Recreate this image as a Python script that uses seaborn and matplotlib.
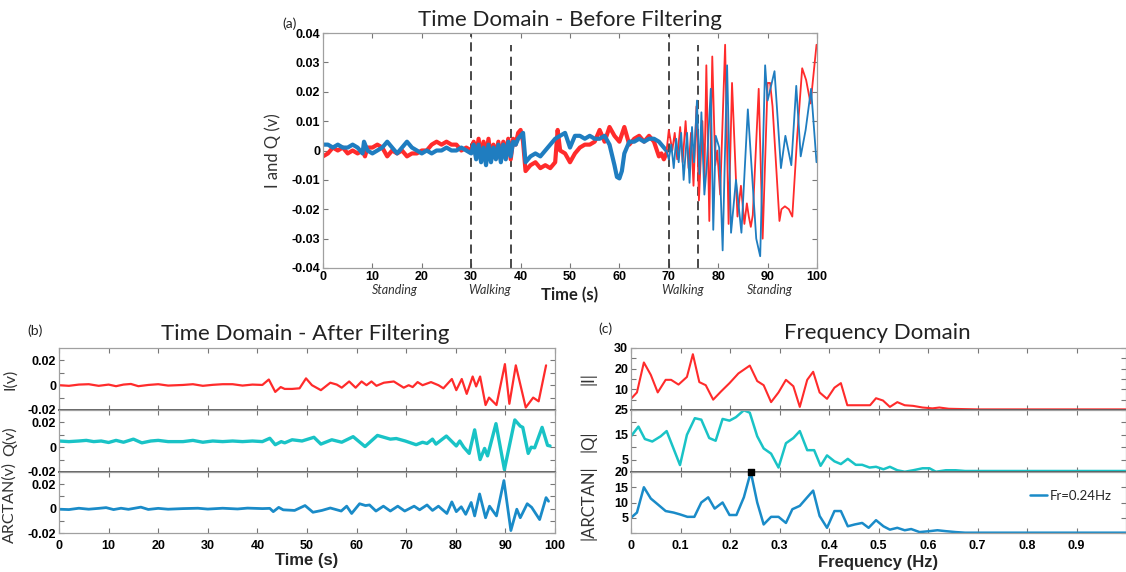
import matplotlib
matplotlib.use("Agg")
import matplotlib.pyplot as plt
from matplotlib.transforms import blended_transform_factory
import numpy as np
import pandas as pd
import seaborn as sns

# ---------------- data ----------------
# (a) raw I and Q signals, (time s, volts)
raw_I = [(0, -0.002), (1, -0.001), (2, 0.001), (3, 0.000), (4, 0.001), (5, -0.001), (6, 0.000), (7, -0.001),
         (8, 0.000), (8.5, -0.002), (9, 0.001), (10, 0.001), (11, 0.002), (12, 0.001), (13, -0.002), (14, 0.000),
         (15, -0.001), (16, 0.000), (17, -0.002), (18, -0.001), (19, -0.001), (20, 0.000), (21, 0.000), (22, 0.002),
         (23, 0.003), (24, 0.002), (25, 0.003), (26, 0.002), (27, 0.002), (28, 0.000), (29, 0.001), (30, 0.000),
         (30.5, 0.003), (31, -0.002), (31.5, 0.004), (32, -0.003), (32.5, 0.003), (33, -0.002), (33.5, 0.004),
         (34, -0.003), (34.5, 0.002), (35, -0.002), (35.5, 0.003), (36, -0.003), (36.5, 0.003), (37, -0.002),
         (37.5, 0.004), (38, -0.003), (38.5, 0.004), (39, 0.002), (39.5, 0.006), (40, 0.007), (40.5, 0.003),
         (41, -0.007), (42, -0.005), (43, -0.004), (44, -0.006), (45, -0.005), (46, -0.006), (47, -0.004),
         (47.5, 0.007), (48, 0.000), (49, -0.001), (50, -0.004), (51, -0.001), (52, 0.001), (53, 0.002), (54, 0.002),
         (55, 0.003), (56, 0.007), (57, 0.003), (58, 0.008), (59, 0.005), (60, 0.003), (61, 0.008), (62, 0.002),
         (63, 0.004), (64, 0.005), (65, 0.003), (66, 0.005), (67, 0.003), (68, -0.002), (68.5, -0.001), (69, -0.003),
         (69.5, -0.001), (70, 0.007), (70.7, 0.000), (71.2, 0.006), (71.7, -0.003), (72.3, 0.008), (72.8, -0.004),
         (73.4, 0.010), (74, -0.006), (74.5, 0.006), (75, -0.012), (75.6, 0.015), (76.1, -0.017), (76.8, 0.010),
         (77.2, -0.010), (77.6, 0.029), (78.2, -0.024), (78.8, 0.032), (79.4, -0.005), (79.8, 0.000), (80.4, -0.015),
         (81.4, 0.036), (82.1, -0.025), (82.8, 0.023), (83.9, -0.0225), (84.6, -0.012), (85.3, -0.025),
         (85.8, -0.018), (86.2, -0.0225), (86.6, -0.026), (87.0, -0.022), (88.2, 0.021), (89.0, -0.030),
         (90.0, 0.023), (90.5, 0.023), (91.0, 0.015), (92.4, -0.024), (92.8, -0.020), (93.5, -0.019),
         (94.3, -0.020), (95.0, -0.0225), (96.0, 0.005), (97.0, 0.028), (97.8, 0.024), (98.7, 0.016), (99.9, 0.036)]
raw_Q = [(0, 0.002), (1, 0.002), (2, 0.001), (3, 0.002), (4, 0.001), (5, 0.001), (6, 0.002), (7, 0.001),
         (8, -0.001), (8.3, 0.003), (9, 0.000), (10, -0.001), (11, 0.000), (12, 0.001), (13, 0.003), (14, 0.001),
         (15, -0.001), (16, 0.001), (17, 0.003), (18, 0.001), (19, 0.000), (20, -0.001), (21, 0.000), (22, -0.001),
         (23, 0.000), (24, 0.000), (25, 0.001), (26, 0.000), (27, 0.000), (28, 0.001), (29, 0.000), (30, -0.001),
         (30.5, 0.002), (31, -0.003), (31.5, 0.002), (32, -0.004), (32.5, 0.001), (33, -0.005), (33.5, 0.002),
         (34, -0.004), (34.5, 0.001), (35, -0.003), (35.5, 0.002), (36, -0.004), (36.5, 0.002), (37, -0.003),
         (37.5, 0.003), (38, -0.002), (38.5, 0.003), (39, 0.002), (39.5, 0.004), (40, 0.005), (40.5, 0.006),
         (41, -0.004), (42, -0.002), (43, -0.001), (44, -0.002), (45, 0.000), (46, 0.002), (47, 0.004), (48, 0.005),
         (49, 0.006), (50, 0.001), (51, 0.005), (52, 0.005), (53, 0.004), (54, 0.005), (55, 0.004), (56, 0.004),
         (57, 0.005), (58, 0.002), (59, -0.005), (59.5, -0.009), (60, -0.0095), (60.5, -0.007), (61, -0.001),
         (62, 0.003), (63, 0.003), (64, 0.004), (65, 0.003), (66, 0.004), (67, 0.004), (68, 0.003), (69, 0.001),
         (69.5, 0.000), (70, -0.003), (70.5, 0.002), (71, -0.006), (71.5, 0.004), (72, -0.004), (72.5, 0.006),
         (73, -0.010), (73.7, 0.006), (74.2, -0.011), (74.7, 0.008), (75.1, -0.004), (75.7, 0.017), (76.2, -0.008),
         (76.6, 0.013), (77.2, -0.015), (77.7, -0.005), (78.5, 0.021), (79.0, -0.027), (79.5, 0.005), (80.2, 0.001),
         (80.9, -0.034), (81.8, 0.029), (82.6, -0.028), (83.6, -0.010), (84.7, -0.028), (86.0, 0.014),
         (87.0, -0.012), (87.7, -0.030), (88.5, -0.036), (89.5, 0.029), (90.0, 0.017), (91.4, 0.027),
         (92.7, -0.006), (93.6, 0.005), (94.8, -0.005), (95.8, 0.022), (96.7, -0.002), (97.7, 0.007),
         (98.8, 0.021), (99.9, -0.004)]
events = [30, 38, 70, 76]
activity_names = ["Standing", "Walking", "Walking", "Standing"]
activity_centers = [14.6, 33.8, 72.7, 90.5]

# (b) filtered signals (time s, volts)
filt_I = [(0, 0.0), (2, -0.0005), (4, 0.0005), (6, 0.0008), (8, -0.0005), (10, 0.0005), (11.5, -0.0008),
          (13, 0.0005), (14.5, 0.001), (16, -0.0008), (18, 0.0002), (20, 0.0008), (22, -0.0003), (25, 0.0002),
          (27, 0.0008), (29, -0.0005), (31, 0.0003), (33, 0.0008), (35, 0.0008), (37, -0.0003), (39, 0.0005),
          (41, 0.0002), (42.3, 0.0046), (43.6, -0.0054), (44.7, -0.0015), (45.5, -0.003), (47, -0.003),
          (48.5, -0.0025), (49.8, 0.0055), (51, 0.0), (52.8, -0.004), (54.7, 0.002), (56, 0.0005), (57, -0.002),
          (58.5, 0.003), (59.8, -0.002), (61, 0.003), (62, 0.0), (63, 0.003), (64, -0.0005), (65.5, 0.002),
          (67.5, 0.003), (69.5, -0.002), (70.5, 0.0), (71.3, -0.0015), (72.3, 0.0025), (73.3, 0.0), (75, 0.0025),
          (76.5, 0.0), (77.5, -0.0025), (79.2, 0.005), (80.1, -0.004), (81.2, 0.005), (82.2, -0.007), (83.4, 0.007),
          (84.1, -0.001), (84.9, 0.007), (86.0, -0.016), (86.7, -0.010), (88.2, -0.016), (89.9, 0.017),
          (90.8, -0.015), (92.1, 0.016), (94.1, -0.018), (95.6, -0.010), (96.7, -0.013), (98.2, 0.016)]
filt_Q = [(0, 0.005), (2, 0.0045), (4, 0.005), (5.5, 0.0055), (7, 0.0045), (8.5, 0.005), (10, 0.0038),
          (11.5, 0.0055), (13, 0.004), (15, 0.0065), (16.7, 0.0035), (18.5, 0.005), (20, 0.0055), (22, 0.0045),
          (25, 0.0045), (27, 0.0055), (29, 0.004), (31, 0.005), (33, 0.0045), (35, 0.005), (37, 0.0045),
          (39, 0.005), (41, 0.0045), (42.5, 0.0072), (43.6, 0.002), (44.8, 0.0045), (45.5, 0.0035), (47, 0.006),
          (49, 0.005), (51.4, 0.008), (52.8, 0.0025), (55, 0.006), (57, 0.004), (59.3, 0.0085), (61.7, 0.0005),
          (64.2, 0.0095), (66.8, 0.0065), (68, 0.007), (69.8, 0.005), (72, 0.002), (73.3, 0.004), (74.2, 0.003),
          (75.3, 0.0065), (76, 0.0025), (78.1, 0.009), (80.1, 0.001), (80.8, 0.005), (81.6, 0.0), (82.7, -0.005),
          (83.8, 0.014), (84.9, -0.010), (85.8, -0.001), (86.4, -0.007), (88.1, 0.019), (89.8, -0.018),
          (91.9, 0.022), (93.0, 0.017), (93.5, 0.016), (94.6, -0.005), (95.2, 0.0), (95.9, -0.0005),
          (97.4, 0.016), (98.5, 0.0015), (99, 0.001)]
filt_A = [(0, -0.0005), (2, -0.0008), (4, 0.0003), (6, -0.0005), (8, 0.0002), (9.5, 0.0008), (11, -0.0008),
          (12.5, 0.0003), (14, -0.0006), (16.5, 0.0012), (18, -0.0007), (20, 0.0002), (22, -0.0005), (25, 0.0),
          (28, 0.0003), (30, -0.0004), (33, 0.0003), (36, -0.0003), (38, 0.0004), (41, 0.0), (42.5, 0.0002),
          (43.2, -0.0025), (44.3, 0.001), (45.2, -0.001), (47.5, -0.0015), (49.6, 0.0025), (51.2, -0.003),
          (53, -0.0015), (54.7, 0.0005), (56.9, -0.002), (58, 0.002), (59, -0.004), (60.6, 0.004), (61.8, 0.0025),
          (62.6, 0.003), (63.9, -0.002), (65.4, 0.002), (66.8, -0.002), (68.3, 0.002), (69.7, -0.002),
          (71.6, 0.002), (72.7, -0.001), (74.2, 0.003), (75.3, -0.0015), (76.5, 0.002), (78.2, -0.004),
          (79.2, 0.0055), (80.1, -0.0025), (81.1, 0.0015), (82.0, -0.0047), (83.1, 0.005), (83.8, -0.006),
          (84.8, 0.012), (86.0, -0.0075), (86.8, 0.002), (88.2, -0.006), (89.7, 0.023), (91.1, -0.018),
          (92.3, -0.0005), (93.0, -0.0075), (94.4, 0.004), (95.3, 0.001), (96.9, -0.009), (98.2, 0.009),
          (98.7, 0.006)]

# (c) spectra (frequency Hz, magnitude)
freq_I = [0, 0.012, 0.026, 0.040, 0.054, 0.070, 0.081, 0.096, 0.113, 0.125, 0.138, 0.151, 0.166, 0.182, 0.199,
          0.217, 0.240, 0.255, 0.268, 0.283, 0.298, 0.313, 0.328, 0.341, 0.356, 0.368, 0.381, 0.396, 0.411, 0.424,
          0.437, 0.450, 0.464, 0.483, 0.495, 0.509, 0.523, 0.538, 0.553, 0.570, 0.589, 0.609, 0.623, 0.642, 0.66,
          0.70, 0.75, 0.80, 0.90, 1.0]
mag_I = [5.4, 8.5, 23, 17, 8.5, 14.6, 14.6, 12.3, 16, 27, 13.5, 12, 5, 9, 13, 17.7, 21.5, 14, 12, 3.8,
         8.5, 14.6, 11.5, 1.5, 14.6, 18.5, 8.5, 5.4, 10.8, 13, 2.3, 2.3, 2.3, 2.3, 5.7, 4.6, 1.5, 3.8, 2.3, 2.0,
         1.2, 0.8, 1.2, 0.6, 0.5, 0.3, 0.3, 0.3, 0.3, 0.3]
freq_Q = [0, 0.015, 0.028, 0.043, 0.060, 0.072, 0.099, 0.113, 0.129, 0.142, 0.158, 0.171, 0.185, 0.199, 0.212,
          0.228, 0.240, 0.255, 0.268, 0.283, 0.298, 0.313, 0.328, 0.341, 0.356, 0.370, 0.383, 0.396, 0.411, 0.424,
          0.438, 0.454, 0.467, 0.482, 0.495, 0.510, 0.523, 0.538, 0.553, 0.570, 0.589, 0.603, 0.616, 0.636, 0.656,
          0.675, 0.70, 0.75, 0.80, 0.90, 1.0]
mag_Q = [14.4, 18.3, 13.3, 12.3, 14.4, 16.5, 2.8, 15, 21.7, 21.1, 13.7, 12.6, 21.4, 20.7, 22.1, 24.9, 23.9, 14.4,
         9.5, 7.4, 1.8, 11.6, 13.7, 16.5, 8.8, 8.8, 2.5, 6.7, 4.3, 3.2, 5.3, 2.9, 2.9, 1.8, 2.1, 1.1, 2.1, 0.7,
         0.1, 0.7, 1.5, 1.5, 0.1, 0.7, 0.7, 0.4, 0.4, 0.4, 0.4, 0.4, 0.4]
freq_A = [0, 0.012, 0.026, 0.040, 0.054, 0.070, 0.086, 0.099, 0.114, 0.128, 0.142, 0.156, 0.169, 0.185, 0.199,
          0.213, 0.228, 0.242, 0.255, 0.268, 0.283, 0.298, 0.313, 0.326, 0.341, 0.356, 0.368, 0.381, 0.396, 0.411,
          0.424, 0.438, 0.452, 0.467, 0.480, 0.495, 0.510, 0.523, 0.538, 0.553, 0.566, 0.583, 0.603, 0.619, 0.636,
          0.656, 0.675, 0.75, 0.85, 1.0]
mag_A = [5, 6.7, 15, 11.3, 9.4, 7.2, 6.7, 6.1, 5.3, 5.3, 10, 11.7, 8, 10, 5.9, 5.9, 11.7, 20, 10, 2.8,
         5.3, 5.3, 3.3, 7.8, 8.9, 11.7, 13.9, 5.6, 1.7, 7.2, 7.2, 2.2, 2.8, 3.3, 1.7, 4.2, 2.2, 1.1, 1.7, 0.9,
         1.3, 0.3, 0.6, 0.9, 0.6, 0.3, 0.1, 0.1, 0.1, 0.1]
peak_label = "Fr=0.24Hz"

# ---------------- style ----------------
sns.set_theme(style="white")
plt.rcParams["font.family"] = ["Liberation Sans", "DejaVu Sans"]
TITLE_FONT = ["Lato", "DejaVu Sans"]

RED = "#ff2b2b"
BLUE = "#1f7dc0"
CYAN = "#19c3c6"
ABLUE = "#1a8bc8"
FRAME = "#a0a0a0"

W, H = 1126, 572
fig = plt.figure(figsize=(W / 100, H / 100), dpi=100)


def add_ax(l, t, r, b):
    return fig.add_axes([l / W, 1 - b / H, (r - l) / W, (b - t) / H])


def frame(ax):
    ax.set_facecolor("white")
    for s in ax.spines.values():
        s.set_visible(True)
        s.set_color(FRAME)
        s.set_linewidth(0.9)
    ax.tick_params(direction="in", length=3.5, width=0.8, color="#777777",
                   top=True, right=True, bottom=True, left=True, pad=2, labelcolor="black")
    ax.grid(False)


def line(ax, pts, color, lw, label=None):
    df = pd.DataFrame(pts, columns=["x", "y"])
    sns.lineplot(data=df, x="x", y="y", ax=ax, color=color, lw=lw, estimator=None,
                 sort=False, label=label, legend=False)
    ax.set_xlabel("")
    ax.set_ylabel("")


def vfmt(v):
    return "0" if abs(v) < 1e-12 else f"{v:.2f}"


# ---------------- (a) ----------------
axa = add_ax(323, 33, 817, 268)
frame(axa)
split = 69.5
line(axa, [p for p in raw_I if p[0] <= split], RED, 3.0)
line(axa, [p for p in raw_Q if p[0] <= split], BLUE, 3.0)
line(axa, [p for p in raw_I if p[0] >= split], RED, 1.3)
line(axa, [p for p in raw_Q if p[0] >= split], BLUE, 1.3)
for e, top in zip(events, [1.0, 0.95, 1.0, 0.95]):
    axa.axvline(e, ymin=0, ymax=top, color="#3a3a3a", lw=1.3, ls=(0, (5, 3)), zorder=1)
axa.set_xlim(0, 100)
axa.set_ylim(-0.04, 0.04)
xt = np.arange(0, 101, 10)
axa.set_xticks(xt, [str(v) for v in xt], fontsize=9, fontweight="bold")
yt = np.round(np.arange(-0.04, 0.0401, 0.01), 2)
axa.set_yticks(yt, [vfmt(v) for v in yt], fontsize=9, fontweight="bold")
axa.set_ylabel("I and Q (v)", fontsize=12, family=TITLE_FONT, color="#333333")
axa.yaxis.set_label_coords(-0.085, 0.5)
tr = blended_transform_factory(axa.transData, axa.transAxes)
for name, c in zip(activity_names, activity_centers):
    axa.text(c, -0.07, name, transform=tr, ha="center", va="top", fontsize=9,
             style="italic", family=TITLE_FONT, color="#333333")
axa.text(0.5, -0.115, "Time (s)", transform=axa.transAxes, ha="center", va="center",
         fontsize=12, fontweight="bold", family=TITLE_FONT, color="#222222")
fig.text(570 / W, 1 - 20 / H, "Time Domain - Before Filtering", ha="center", va="center",
         fontsize=16, family=TITLE_FONT, color="#222222")
fig.text(290 / W, 1 - 24 / H, "(a)", ha="center", va="center", fontsize=10,
         family=TITLE_FONT, color="#222222")

# ---------------- (b) ----------------
rows = [(348, 410), (410, 472), (472, 533)]
b_series = [(filt_I, RED, 1.6, "I(v)"), (filt_Q, CYAN, 2.4, "Q(v)"), (filt_A, ABLUE, 2.0, "ARCTAN(v)")]
for i, ((t, b), (pts, col, lw, lab)) in enumerate(zip(rows, b_series)):
    ax = add_ax(59, t, 555, b)
    frame(ax)
    line(ax, pts, col, lw)
    ax.set_xlim(0, 100)
    ax.set_ylim(-0.02, 0.03)
    yt = [-0.02, -0.01, 0, 0.01, 0.02]
    ax.set_yticks(yt, ["-0.02", "", "0", "", "0.02"], fontsize=9, fontweight="bold")
    ax.set_xticks(xt, [str(v) for v in xt], fontsize=9, fontweight="bold")
    if i < 2:
        ax.tick_params(labelbottom=False)
        ax.spines["bottom"].set_color("#555555")
        ax.spines["bottom"].set_linewidth(1.3)
    else:
        ax.tick_params(axis="x", pad=5)
        ax.set_xlabel("Time (s)", fontsize=12, fontweight="bold", labelpad=1)
    ax.set_ylabel(lab, fontsize=11.5, family=TITLE_FONT, color="#333333")
    ax.yaxis.set_label_coords(-0.085, 0.5)
fig.text(305 / W, 1 - 334 / H, "Time Domain - After Filtering", ha="center", va="center",
         fontsize=16, family=TITLE_FONT, color="#222222")
fig.text(35 / W, 1 - 331 / H, "(b)", ha="center", va="center", fontsize=10,
         family=TITLE_FONT, color="#222222")

# ---------------- (c) ----------------
c_series = [(freq_I, mag_I, RED, 1.5, "|I|", 30, [0, 5, 10, 15, 20, 25, 30], ["", "", "10", "", "20", "", "30"]),
            (freq_Q, mag_Q, CYAN, 1.8, "|Q|", 25, [0, 5, 10, 15, 20, 25], ["", "5", "", "15", "", "25"]),
            (freq_A, mag_A, ABLUE, 1.8, "|ARCTAN|", 20, [0, 5, 10, 15, 20], ["", "5", "10", "15", "20"])]
xf = np.round(np.arange(0, 1.0, 0.1), 1)
for i, ((t, b), (fx, fy, col, lw, lab, ymax, ytk, ylb)) in enumerate(zip(rows, c_series)):
    ax = add_ax(631, t, 1126, b)
    frame(ax)
    pts = list(zip(fx, fy))
    line(ax, pts, col, lw, label=peak_label if i == 2 else None)
    ax.set_xlim(0, 1)
    ax.set_ylim(0, ymax)
    ax.set_yticks(ytk, ylb, fontsize=9, fontweight="bold")
    ax.set_xticks(xf, ["0"] + [f"{v:.1f}" for v in xf[1:]], fontsize=9, fontweight="bold")
    if i < 2:
        ax.tick_params(labelbottom=False)
        ax.spines["bottom"].set_color("#555555")
        ax.spines["bottom"].set_linewidth(1.3)
    else:
        ax.tick_params(axis="x", pad=5)
        ax.set_xlabel("Frequency (Hz)", fontsize=12, fontweight="bold", labelpad=2)
        k = int(np.argmax(fy))
        ax.scatter([fx[k]], [fy[k]], marker="s", s=22, color="black", zorder=6, clip_on=False)
        ax.legend(loc="upper right", bbox_to_anchor=(0.995, 0.9), frameon=False, fontsize=9.5,
                  handlelength=1.3, handletextpad=0.2, prop={"family": TITLE_FONT, "size": 9.5})
    ax.set_ylabel(lab, fontsize=12, family=TITLE_FONT, color="#333333")
    ax.yaxis.set_label_coords(-0.07, 0.5)
fig.text(877 / W, 1 - 333 / H, "Frequency Domain", ha="center", va="center",
         fontsize=16, family=TITLE_FONT, color="#222222")
fig.text(605 / W, 1 - 329 / H, "(c)", ha="center", va="center", fontsize=10,
         family=TITLE_FONT, color="#222222")

fig.savefig("out.png", dpi=100, facecolor="white")
